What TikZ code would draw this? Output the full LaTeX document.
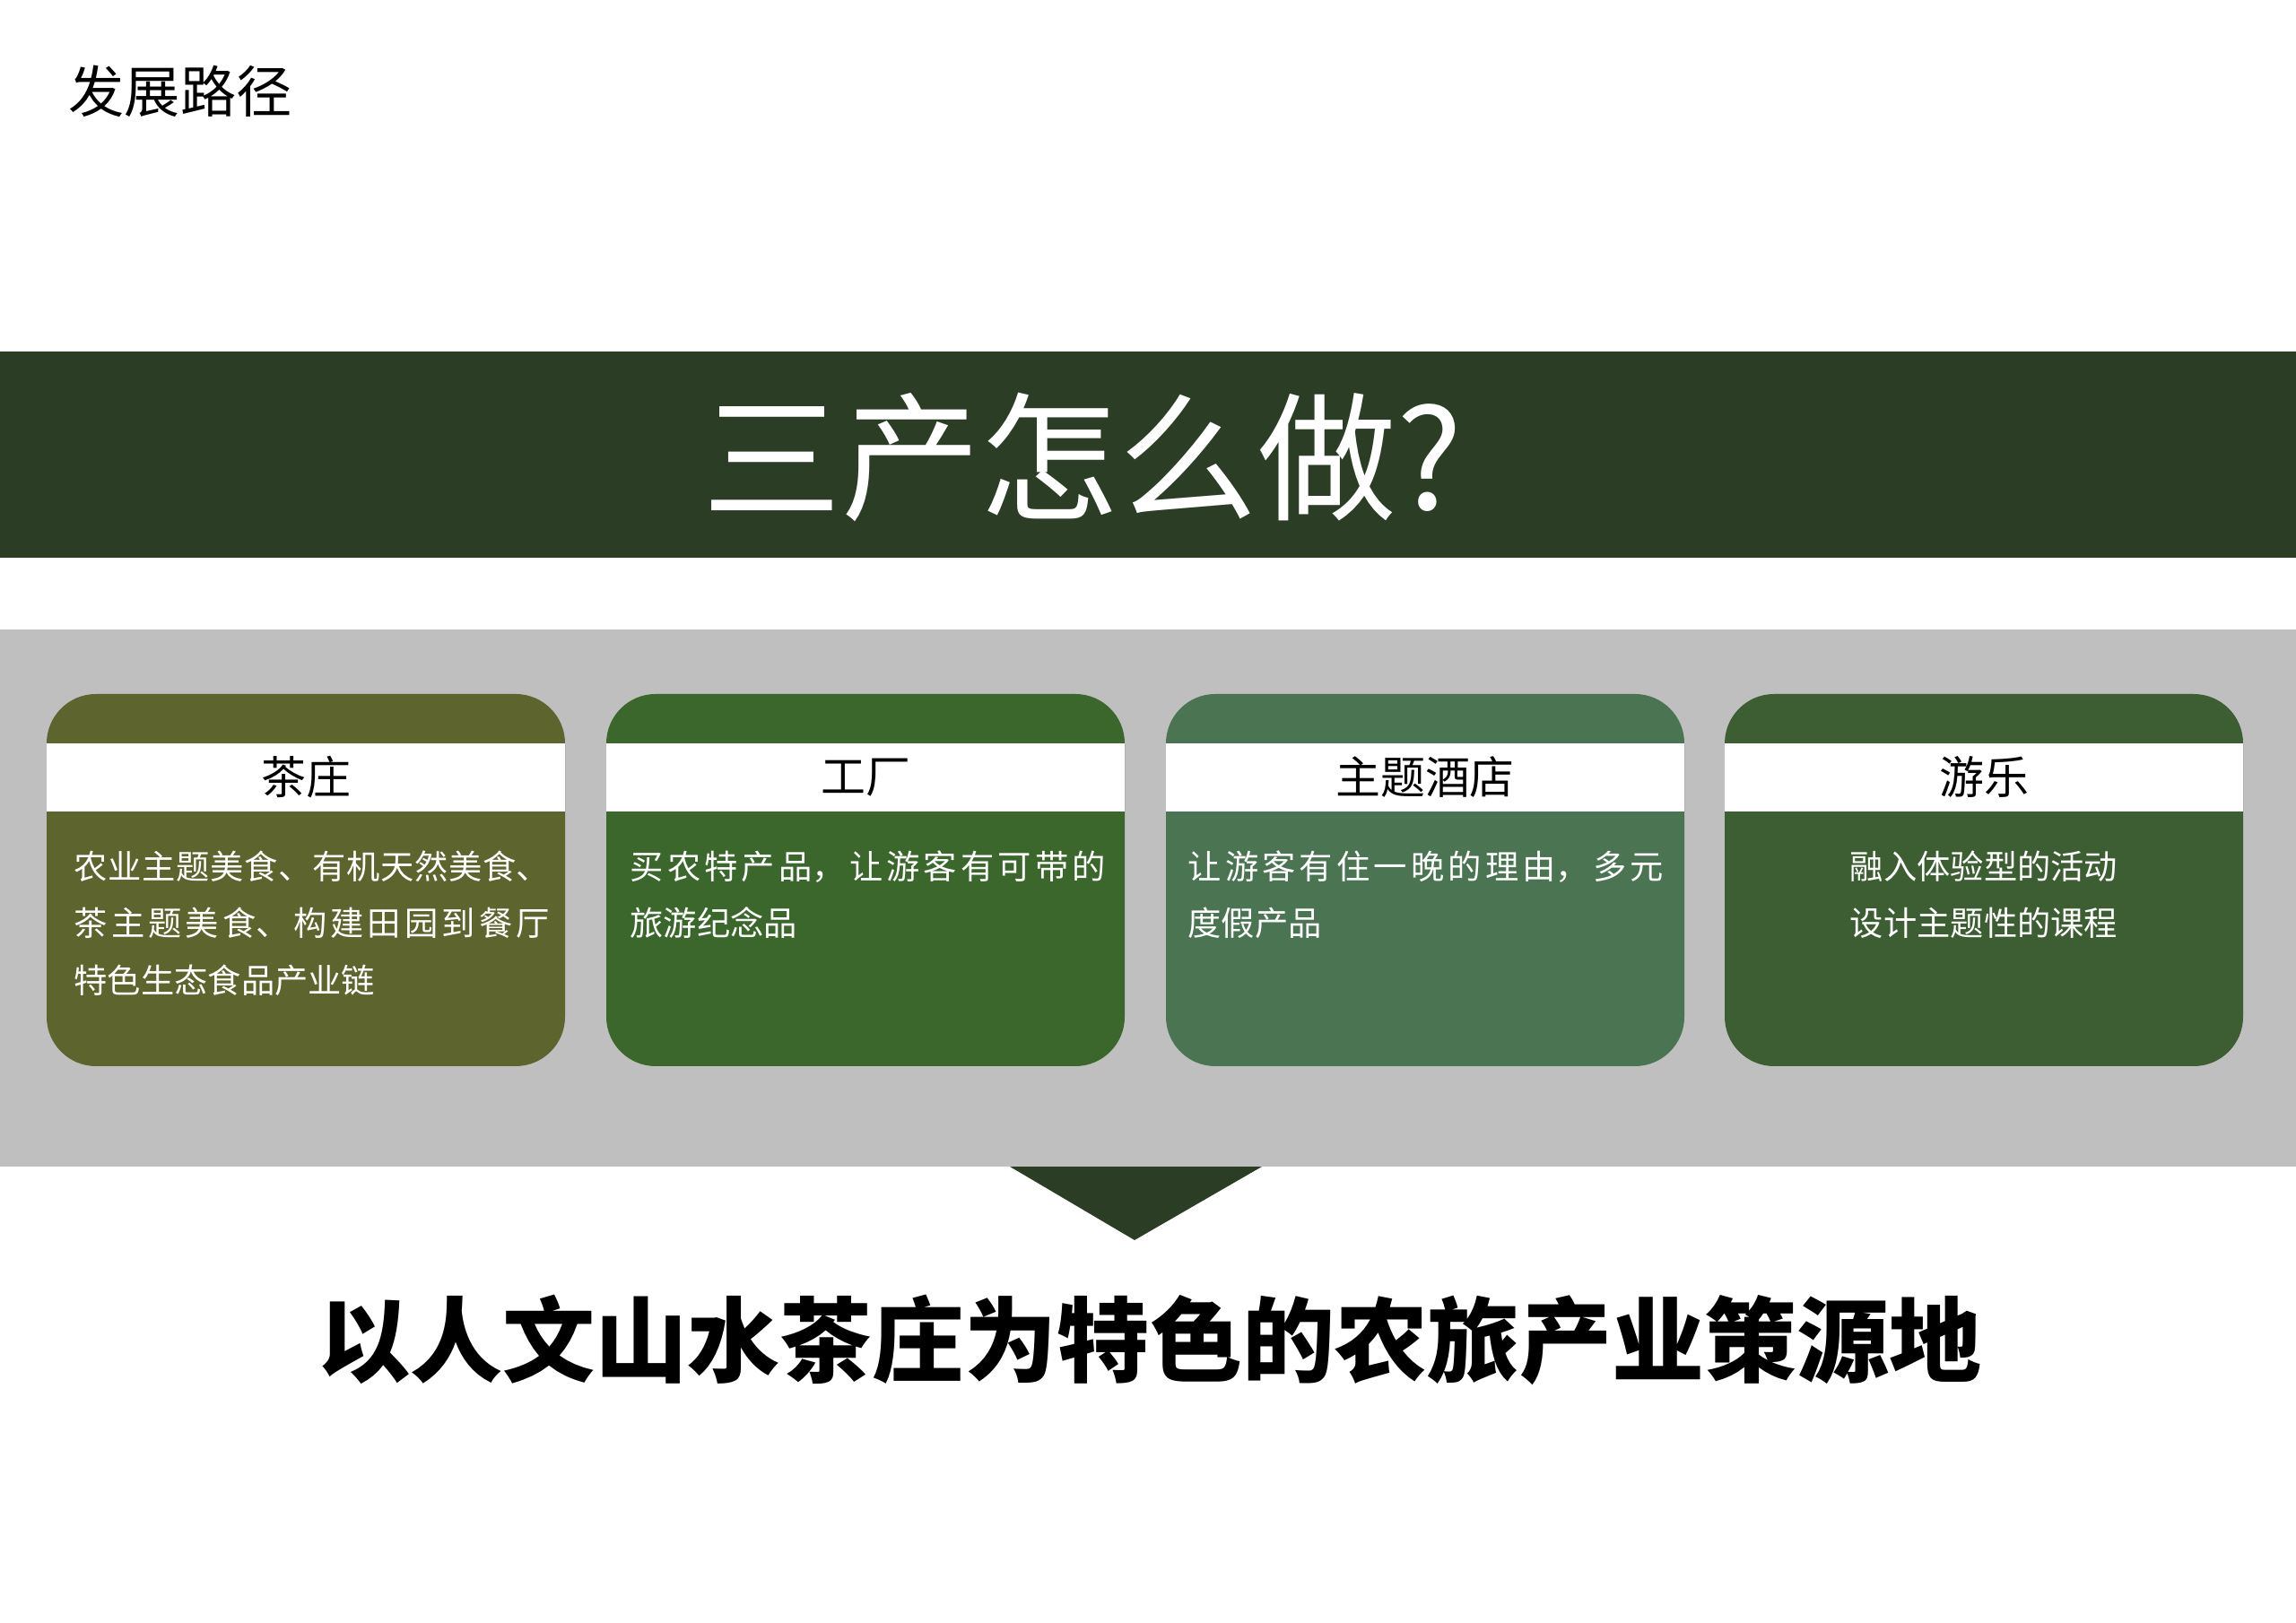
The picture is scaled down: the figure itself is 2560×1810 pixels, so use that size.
\documentclass[tikz,border=0pt]{standalone}
\usepackage{fontspec}
\setmainfont{Noto Sans CJK SC}
\XeTeXlinebreaklocale "zh"
\XeTeXlinebreakskip = 0pt plus 1pt
\usepackage{xcolor}
\usepackage{tikz}
\usetikzlibrary{positioning}
\pgfdeclarelayer{boxlayer}
\pgfdeclarelayer{textlayer}
\pgfsetlayers{boxlayer,main,textlayer}
\definecolor{bandgreen}{HTML}{2B3D25}
\definecolor{panelgray}{HTML}{BFBFBF}
\definecolor{oliveone}{HTML}{5E642E}
\definecolor{greentwo}{HTML}{3B672D}
\definecolor{greenthree}{HTML}{4A7452}
\definecolor{greenfour}{HTML}{3D5E33}
\tikzset{
  card/.style={rounded corners=0.55cm},
  head/.style={text=black, inner sep=0pt, font=\fontsize{14.2}{17}\selectfont},
  body/.style={text=white, text width=5.3cm, align=justify, anchor=north west, inner sep=0pt, font=\fontsize{10.6}{18.1}\selectfont},
  bodymid/.style={text=white, align=center, anchor=north, inner sep=0pt, font=\fontsize{10.6}{18.1}\selectfont},
}

\begin{document}
\begin{tikzpicture}[x=0.01cm, y=-0.01cm]
  \useasboundingbox (0, 0) rectangle (2560, 1810);
  \begin{pgfonlayer}{boxlayer}
    \fill [white] (0, 0) rectangle (2560, 1810);
    \fill [bandgreen] (0, 392) rectangle (2560, 622);
    \fill [panelgray] (0, 702) rectangle (2560, 1301);
    \fill [oliveone, card] (52, 774) rectangle (630, 1189);
    \fill [greentwo, card] (676, 774) rectangle (1254, 1189);
    \fill [greenthree, card] (1300, 774) rectangle (1878, 1189);
    \fill [greenfour, card] (1923, 774) rectangle (2501, 1189);
    \fill [white] (52, 829) rectangle (630, 905);
    \fill [white] (676, 829) rectangle (1254, 905);
    \fill [white] (1300, 829) rectangle (1878, 905);
    \fill [white] (1923, 829) rectangle (2501, 905);
    \fill [bandgreen] (1126, 1301) -- (1407, 1301) -- (1265, 1383) -- cycle;
  \end{pgfonlayer}
  \begin{pgfonlayer}{textlayer}
    \node [inner sep=0pt, font=\fontsize{17.7}{20}\selectfont] (0) at (201, 102) {发展路径};
    \node [inner sep=0pt, text=white, font=\fontsize{44}{50}\selectfont] (1) at (1207, 510) {三产怎么做?};
    \node [head] (2) at (341, 867) {茶庄};
    \node [head] (3) at (965, 867) {工厂};
    \node [head] (4) at (1589, 867) {主题酒店};
    \node [head] (5) at (2212, 867) {游乐};
    \node [body] (6) at (82, 948) {农业主题美食、有机天然美食、\linebreak 茶主题美食、构建田园到餐厅\linebreak 特色生态食品产业链};
    \node [body] (7) at (702, 948) {买农特产品，让游客有可带的\linebreak 旅游纪念品};
    \node [body] (8) at (1324, 948) {让游客有住一晚的理由，多元\linebreak 度假产品};
    \node [bodymid] (9) at (2212, 948) {融入体验型的活动\\设计主题性的课程};
    \node [inner sep=0pt, font=\fontsize{29.3}{34}\selectfont\bfseries] (10) at (1282, 1494) {以人文山水茶庄为特色的农旅产业策源地};
  \end{pgfonlayer}
\end{tikzpicture}
\end{document}
